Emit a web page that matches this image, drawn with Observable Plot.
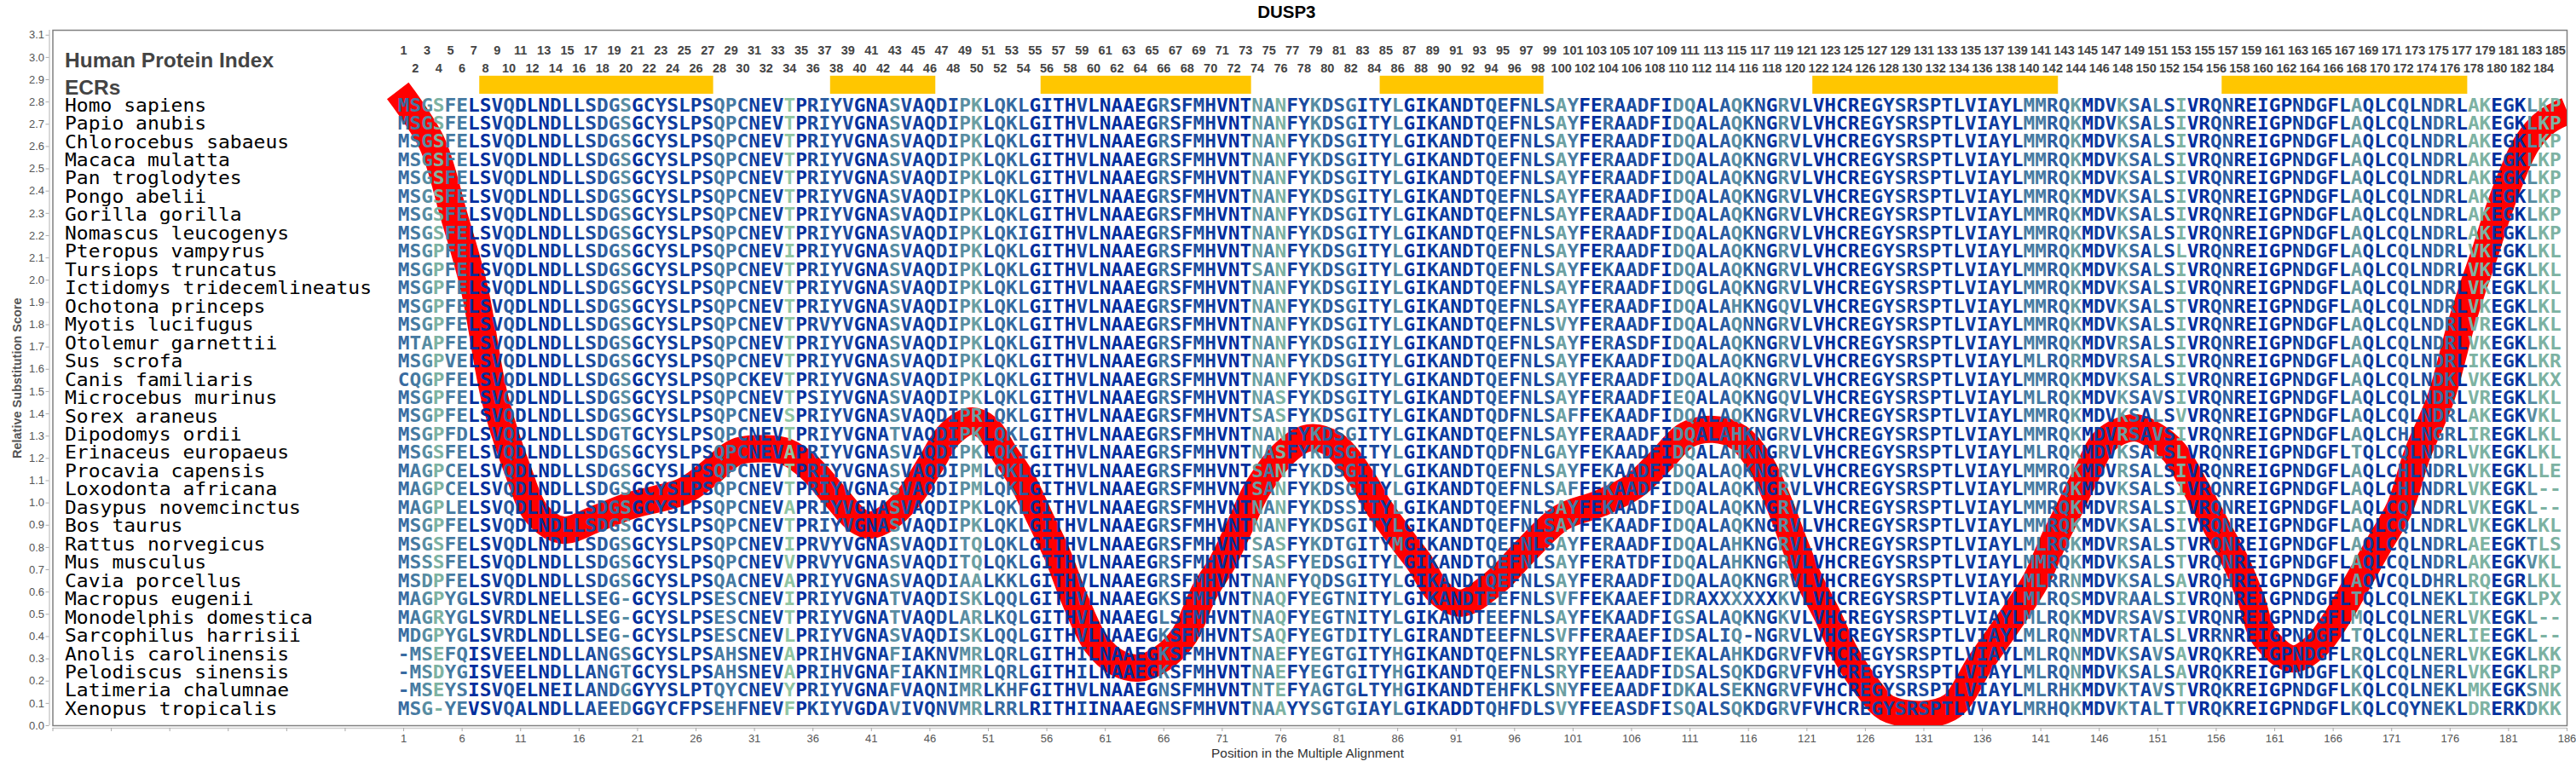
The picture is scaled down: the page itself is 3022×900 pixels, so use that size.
<!DOCTYPE html>
<html>
<head>
<meta charset="utf-8">
<style>html,body{margin:0;padding:0;background:#fff}svg{display:block}</style>
<script src="https://cdn.jsdelivr.net/npm/d3@7"></script>
<script src="https://cdn.jsdelivr.net/npm/@observablehq/plot@0.6"></script>
</head>
<body>
<script>
const species = ["Homo sapiens","Papio anubis","Chlorocebus sabaeus","Macaca mulatta","Pan troglodytes","Pongo abelii","Gorilla gorilla","Nomascus leucogenys","Pteropus vampyrus","Tursiops truncatus","Ictidomys tridecemlineatus","Ochotona princeps","Myotis lucifugus","Otolemur garnettii","Sus scrofa","Canis familiaris","Microcebus murinus","Sorex araneus","Dipodomys ordii","Erinaceus europaeus","Procavia capensis","Loxodonta africana","Dasypus novemcinctus","Bos taurus","Rattus norvegicus","Mus musculus","Cavia porcellus","Macropus eugenii","Monodelphis domestica","Sarcophilus harrisii","Anolis carolinensis","Pelodiscus sinensis","Latimeria chalumnae","Xenopus tropicalis"];

// Alignment columns 1-24
const seg1 = ["MSGSFELSVQDLNDLLSDGSGCYS","MSGSFELSVQDLNDLLSDGSGCYS","MSGSFELSVQDLNDLLSDGSGCYS","MSGSFELSVQDLNDLLSDGSGCYS","MSGSFELSVQDLNDLLSDGSGCYS","MSGSFELSVQDLNDLLSDGSGCYS","MSGSFELSVQDLNDLLSDGSGCYS","MSGSFELSVQDLNDLLSDGSGCYS","MSGPFELSVQDLNDLLSDGSGCYS","MSGPFELSVQDLNDLLSDGSGCYS","MSGPFELSVQDLNDLLSDGSGCYS","MSGPFELSVQDLNDLLSDGSGCYS","MSGPFELSVQDLNDLLSDGSGCYS","MTAPFELSVQDLNDLLSDGSGCYS","MSGPVELSVQDLNDLLSDGSGCYS","CQGPFELSVQDLNDLLSDGSGCYS","MSGPFELSVQDLNDLLSDGSGCYS","MSGPFELSVQDLNDLLSDGSGCYS","MSGPFDLSVQDLNDLLSDGTGCYS","MSGSFELSVQDLNDLLSDGSGCYS","MAGPCELSVQDLNDLLSDGSGCYS","MAGPCELSVQDLNDLLSDGSGCYS","MAGPLELSVQDLNDLLSDGSGCYS","MSGPFELSVQDLNDLLSDGSGCYS","MSGSFELSVQDLNDLLSDGSGCYS","MSSSFELSVQDLNDLLSDGSGCYS","MSDPFELSVQDLNDLLSDGSGCYS","MAGPYGLSVRDLNELLSEG-GCYS","MAGRYGLSVRDLNELLSEG-GCYS","MDGPYGLSVRDLNDLLSEG-GCYS","-MSEFQISVEELNDLLANGSGCYS","-MSDYGISVEELNDLLANGTGCYS","-MSEYSISVQELNEILANDGGYYS","MSG-YEVSVQALNDLLAEEDGGYC"];

// Alignment columns 25-83
const seg2 = ["LPSQPCNEVTPRIYVGNASVAQDIPKLQKLGITHVLNAAEGRSFMHVNTNANFYKDSGI","LPSQPCNEVTPRIYVGNASVAQDIPKLQKLGITHVLNAAEGRSFMHVNTNANFYKDSGI","LPSQPCNEVTPRIYVGNASVAQDIPKLQKLGITHVLNAAEGRSFMHVNTNANFYKDSGI","LPSQPCNEVTPRIYVGNASVAQDIPKLQKLGITHVLNAAEGRSFMHVNTNANFYKDSGI","LPSQPCNEVTPRIYVGNASVAQDIPKLQKLGITHVLNAAEGRSFMHVNTNANFYKDSGI","LPSQPCNEVTPRIYVGNASVAQDIPKLQKLGITHVLNAAEGRSFMHVNTNANFYKDSGI","LPSQPCNEVTPRIYVGNASVAQDIPKLQKLGITHVLNAAEGRSFMHVNTNANFYKDSGI","LPSQPCNEVTPRIYVGNASVAQDIPKLQKIGITHVLNAAEGRSFMHVNTNANFYKDSGI","LPSQPCNEVIPRIYVGNASVAQDIPKLQKLGITHVLNAAEGRSFMHVNTNANFYKDSGI","LPSQPCNEVTPRIYVGNASVAQDIPKLQKLGITHVLNAAEGRSFMHVNTSANFYKDSGI","LPSQPCNEVTPRIYVGNASVAQDIPKLQKLGITHVLNAAEGRSFMHVNTNANFYKDSGI","LPSQPCNEVTPRIYVGNASVAQDIPKLQKLGITHVLNAAEGRSFMHVNTNANFYKDSGI","LPSQPCNEVTPRVYVGNASVAQDIPKLQKLGITHVLNAAEGRSFMHVNTNANFYKDSGI","LPSQPCNEVTPRIYVGNASVAQDIPKLQKLGITHVLNAAEGRSFMHVNTNANFYKDSGI","LPSQPCNEVTPRIYVGNASVAQDIPKLQKLGITHVLNAAEGRSFMHVNTNANFYKDSGI","LPSQPCKEVTPRIYVGNASVAQDIPKLQKLGITHVLNAAEGRSFMHVNTNANFYKDSGI","LPSQPCNEVTPSIYVGNASVAQDIPKLQKLGITHVLNAAEGRSFMHVNTNASFYKDSGI","LPSQPCNEVSPRIYVGNASVAQDIPRLQKLGITHVLNAAEGRSFMHVNTSASFYKDSGI","LPSQPCNEVTPRIYVGNATVAQDIPKLQKLGITHVLNAAEGRSFMHVNTNANFYKDSGI","LPSQPCNEVAPRIYVGNASVAQDIPKLQKIGITHVLNAAEGRSFMHVNTNASFYKDSGI","LPSQPCNEVTPRIYVGNASVAQDIPMLQKLGITHVLNAAEGRSFMHVNTSANFYKDSGI","LPSQPCNEVTPRIYVGNASVAQDIPMLQKLGITHVLNAAEGRSFMHVNTSANFYKDSGI","LPSQPCNEVAPRIYVGNASVAQDIPKLQKLGITHVLNAAEGRSFMHVNTNANFYKDSSI","LPSQPCNEVTPRIYVGNASVAQDIPKLQKLGITHVLNAAEGRSFMHVNTNANFYKDSGI","LPSQPCNEVIPRVYVGNASVAQDITQLQKLGITHVLNAAEGRSFMHVNTSASFYKDTGI","LPSQPCNEVVPRVYVGNASVAQDITQLQKLGITHVLNAAEGRSFMHVNTSASFYEDSGI","LPSQACNEVAPRIYVGNASVAQDIAALKKLGITHVLNAAEGRSFMHVNTNANFYQDSGI","LPSESCNEVIPRIYVGNATVAQDISKLQQLGITHVLNAAEGKSFMHVNTNAQFYEGTNI","LPSESCNEVTPRIYVGNATVAQDLARLKQLGITHVLNAAEGLSFMHVNTNAQFYEGTNI","LPSESCNEVLPRIYVGNASVAQDISKLQQLGITHVLNAAEGKSFMHVNTSAQFYEGTDI","LPSAHSNEVAPRIHVGNAFIAKNVMRLQRLGITHILNAAEGKSFMHVNTNAEFYEGTGI","LPSAHSNEVAPRIHVGNAFIAKNIMRLQRLGITHILNAAEGKSFMHVNTNAEFYEGTGI","LPTQYCNEVYPRIYVGNAFVAQNIMRLKHFGITHVLNAAEGNSFMHVNTNTEFYAGTGL","FPSEHFNEVFPKIYVGDAVIVQNVMRLRRLRITHIINAAEGNSFMHVNTNAAYYSGTGI"];

// Alignment columns 84-121
const seg3 = ["TYLGIKANDTQEFNLSAYFERAADFIDQALAQKNGRVL","TYLGIKANDTQEFNLSAYFERAADFIDQALAQKNGRVL","TYLGIKANDTQEFNLSAYFERAADFIDQALAQKNGRVL","TYLGIKANDTQEFNLSAYFERAADFIDQALAQKNGRVL","TYLGIKANDTQEFNLSAYFERAADFIDQALAQKNGRVL","TYLGIKANDTQEFNLSAYFERAADFIDQALAQKNGRVL","TYLGIKANDTQEFNLSAYFERAADFIDQALAQKNGRVL","TYLGIKANDTQEFNLSAYFERAADFIDQALAQKNGRVL","TYLGIKANDTQEFNLSAYFERAADFIDQALAQKNGRVL","TYLGIKANDTQEFNLSAYFEKAADFIDQALAQKNGRVL","IYLGIKANDTQEFNLSAYFERAADFIDQGLAQKNGRVL","TYLGIKANDTQEFNLSAYFERAADFIDQALAHKNGQVL","TYLGIKANDTQEFNLSVYFERAADFIDQALAQNNGRVL","IYLGIKANDTQEFNLSAYFERASDFIDQALAQKNGRVL","TYLGIKANDTQEFNLSAYFEKAADFIDQALAQKNGRVL","TYLGIKANDTQEFNLSAYFERAADFIDQALAQKNGRVL","TYLGIKANDTQEFNLSAYFERAADFIEQALAQKNGQVL","TYLGIKANDTQDFNLSAFFEKAADFIDQALAQKNGRVL","TYLGIKANDTQEFNLSAYFERAADFIDQALAHKNGRVL","TYLGIKANDTQDFNLGAYFEKAADFIDQALAHKNGRVL","TYLGIKANDTQEFNLSAYFEKAADFIDQALAQKNGRVL","TYLGIKANDTQEFNLSAFFEKAADFIDQALAQKNGRVL","TYLGIKANDTQEFNLSAYFEKAADFIDQALAQKNGRVL","TYLGIKANDTQEFNLSAYFEKAADFIDQALAQKNGRVL","TYMGIKANDTQEFNLSAYFERAADFIDQALAHKNGRVL","TYLGIKANDTQEFNLSAYFERATDFIDQALAHKNGRVL","TYLGIKANDTQEFNLSAYFERAADFIDQALAQKNGRVL","TYLGIKANDTEEFNLSVFFEKAAEFIDRAXXXXXXKVL","TYLGIKANDTEEFNLSAYFEKAADFIGSALAQKNGKVL","TYLGIRANDTEEFNLSVFFERAAEFIDSALIQ-NGRVL","TYHGIKANDTQEFNLSRYFEEAADFIEKALAHKDGRVF","TYHGIKANDTQEFNLSRYFEEAADFIDSALSQKDGRVF","TYHGIKANDTEHFKLSNYFEEAADFIDKALSEKNGRVF","AYLGIKADDTQHFDLSVYFEEASDFISQALSQKDGRVF"];

// Alignment columns 122-185
const seg4 = ["VHCREGYSRSPTLVIAYLMMRQKMDVKSALSIVRQNREIGPNDGFLAQLCQLNDRLAKEGKLKP","VHCREGYSRSPTLVIAYLMMRQKMDVKSALSIVRQNREIGPNDGFLAQLCQLNDRLAKEGKLKP","VHCREGYSRSPTLVIAYLMMRQKMDVKSALSIVRQNREIGPNDGFLAQLCQLNDRLAKEGKLKP","VHCREGYSRSPTLVIAYLMMRQKMDVKSALSIVRQNREIGPNDGFLAQLCQLNDRLAKEGKLKP","VHCREGYSRSPTLVIAYLMMRQKMDVKSALSIVRQNREIGPNDGFLAQLCQLNDRLAKEGKLKP","VHCREGYSRSPTLVIAYLMMRQKMDVKSALSIVRQNREIGPNDGFLAQLCQLNDRLAKEGKLKP","VHCREGYSRSPTLVIAYLMMRQKMDVKSALSIVRQNREIGPNDGFLAQLCQLNDRLAKEGKLKP","VHCREGYSRSPTLVIAYLMMRQKMDVKSALSIVRQNREIGPNDGFLAQLCQLNDRLAKEGKLKP","VHCREGYSRSPTLVIAYLMMRQKMDVKSALSLVRQNREIGPNDGFLAQLCQLNDRLVKEGKLKL","VHCREGYSRSPTLVIAYLMMRQKMDVKSALSIVRQNREIGPNDGFLAQLCQLNDRLVKEGKLKL","VHCREGYSRSPTLVIAYLMMRQKMDVKSALSIVRQNREIGPNDGFLAQLCQLNDRLVKEGKLKL","VHCREGYSRSPTLVIAYLMMRQKMDVKSALSTVRQNREIGPNDGFLAQLCQLNDRLVKEGKLKL","VHCREGYSRSPTLVIAYLMMRQKMDVKSALSIVRQNREIGPNDGFLAQLCQLNDRLVREGKLKL","VHCREGYSRSPTLVIAYLMMRQKMDVRSALSIVRQNREIGPNDGFLAQLCQLNDRLVKEGKLKL","VHCREGYSRSPTLVIAYLMLRQRMDVRSALSIVRQNREIGPNDGFLAQLCQLNDRLIKEGKLKR","VHCREGYSRSPTLVIAYLMMRQKMDVKSALSIVRQNREIGPNDGFLAQLCQLNDKLVKEGKLKX","VHCREGYSRSPTLVIAYLMLRQKMDVKSAVSIVRQNREIGPNDGFLAQLCQLNDRLVREGKLKL","VHCREGYSRSPTLVIAYLMMRQKMDVKSALSVVRQNREIGPNDGFLAQLCQLNDRLAKEGKVKL","VHCREGYSRSPTLVIAYLMMRQKMDVRSAVSIVRQNREIGPNDGFLAQLCHLNGRLIREGKLKL","VHCREGYSRSPTLVIAYLMLRQKMDVKSALSLVRQNREIGPNDGFLTQLCQLNDRLVKEGKLKL","VHCREGYSRSPTLVIAYLMMRQKMDVRSALSIVRQNREIGPNDGFLAQLCHLNDRLVKEGKLLE","VHCREGYSRSPTLVIAYLMMRQKMDVKSALSIVRQNREIGPNDGFLAQLCHLNDRLVKEGKL--","VHCREGYSRSPTLVIAYLMMRQKMDVRSALSIVRQNREIGPNDGFLAQLCQLNDRLVKEGKL--","VHCREGYSRSPTLVIAYLMMRQKMDVKSALSIVRQNREIGPNDGFLAQLCQLNDRLVKEGKLKL","VHCREGYSRSPTLVIAYLMLRQKMDVRSALSTVRQNREIGPNDGFLAQLCQLNDRLAEEGKTLS","VHCREGYSRSPTLVIAYLMMRQKMDVKSALSTVRQNREIGPNDGFLAQLCQLNDRLAKEGKVKL","VHCREGYSRSPTLVIAYLMLRRNMDVKSALSAVRQHREIGPNDGFLAQVCQLDHRLRQEGRLKL","VHCREGYSRSPTLVIAYLMLRQSMDVRAALSIVRQNREIGPNDGFLTQLCQLNEKLIKEGKLPX","VHCREGYSRSPTLVIAYLMLRQKMDVRSAVSIVRQNREIGPNDGFLMQLCQLNERLVKEGKL--","VHCREGYSRSPTLVIAYLMLRQNMDVRTALSLVRRNREIGPNDGFLTQLCQLNERLIEEGKL--","VHCREGYSRSPTLVIAYLMLRQNMDVKSAVSAVRQKREIGPNDGFLRQLCQLNERLVKEGKLKK","VHCREGYSRSPTLVIAYLMLRQNMDVKSALSAVRQKREIGPNDGFLKQLCQLNERLVKEGKLRP","VHCREGYSRSPTLVIAYLMLRHKMDVKTAVSTVRQKREIGPNDGFLKQLCQLNEKLMKEGKSNK","VHCREGYSRSPTLVVAYLMRHQKMDVKTALTTVRQKREIGPNDGFLKQLCQYNEKLDRERKDKK"];

const conservation = [
5,4,3,1,4,4,9,9,8,6,8,9,9,8,8,8,7,6,5,3,9,8,7,8,8,
8,8,4,4,6,8,8,8,0,9,7,6,7,7,9,9,8,3,7,8,8,7,7,3,2,
9,5,5,6,9,8,9,9,7,9,9,9,9,9,9,4,8,8,7,8,9,9,9,2,4,
1,8,7,3,6,6,4,8,7,8,3,9,9,8,8,9,8,8,6,6,8,6,8,6,2,
4,9,9,5,8,7,7,8,9,3,3,8,8,6,3,6,7,9,3,7,8,9,9,9,9,
8,8,8,7,8,7,8,8,9,8,8,8,8,9,4,4,6,5,2,9,8,8,2,5,8,
3,8,1,9,9,7,6,9,9,9,9,9,8,8,8,9,9,2,8,9,8,6,8,7,5,
5,9,1,1,9,8,9,3,1,1];

const ecrStart = [8,38,56,85,122,157];
const ecrEnd = [27,46,73,98,142,177];

// Relative substitution score curve
const curvePos = [0.5,3.4,5.3,7.05,8.8,10.8,12.4,14.6,17.5,20.5,24.9,27.1,29.4,32,33.8,35.7,37.9,39.8,40.9,42.4,44.2,46.1,47.6,49.5,50.9,52.4,53.9,55.4,56.9,58.4,60.2,62.1,63.9,65.8,67.7,69.5,71,72.5,74,76.4,78.4,80.6,83.2,84.3,86.6,87.9,89.5,91.4,94.4,97,100,103.3,106.2,108.5,110.7,113,115.2,117,118.6,119.9,121.2,122.8,124.3,126.4,127.8,130.8,133.4,135.8,138.6,140.6,142,143.5,145,146.5,149,151,152.4,154.3,156,157.7,159,160.1,162.5,164.5,166.4,168.2,170,171.7,173.2,175.2,176.9,177.9,179,180,181.2,182.6,184.2,186];
const curveScore = [2.85,2.617,2.29,1.96,1.469,1.14,0.95,0.878,0.93,0.99,1.052,1.132,1.228,1.243,1.228,1.159,1.03,0.922,0.90,0.934,1.024,1.178,1.304,1.368,1.337,1.22,1.10,0.934,0.768,0.565,0.37,0.28,0.259,0.30,0.40,0.604,0.731,0.895,1.063,1.228,1.292,1.26,1.088,0.987,0.82,0.73,0.60,0.55,0.647,0.788,0.934,0.998,1.075,1.19,1.304,1.33,1.292,1.178,1.0,0.82,0.654,0.49,0.322,0.157,0.08,0.05,0.088,0.28,0.49,0.654,0.82,0.98,1.14,1.28,1.337,1.292,1.228,1.063,0.896,0.731,0.565,0.40,0.30,0.355,0.49,0.654,0.82,0.98,1.22,1.47,1.794,1.96,2.127,2.29,2.46,2.617,2.71,2.76];

const titleText = "DUSP3";
const xLabel = "Position in the Multiple Alignment";
const yLabel = "Relative Substitution Score";
const headerLabels = ["Human Protein Index","ECRs"];
const positions = d3.range(1,186);

const rowScore = i => 2.784 - i*0.08213;

const cells = [];
species.forEach((s,i) => {
  const seq = seg1[i]+seg2[i]+seg3[i]+seg4[i];
  [...seq].forEach((ch,j) => cells.push({pos:j+1,row:rowScore(i),ch,shade:conservation[j]}));
});

// widen glyphs: the reference draws the monospace face stretched horizontally
const stretch = k => (index,scales,values,dims,ctx,next) => {
  const g = next(index,scales,values,dims,ctx);
  g.querySelectorAll("text").forEach(t => t.setAttribute("transform",(t.getAttribute("transform")||"")+` scale(${k},1)`));
  return g;
};

const mono = "'DejaVu Sans Mono'";
const sans = "'Liberation Sans'";

const chart = Plot.plot({
  width:3022, height:900,
  marginLeft:61.5, marginRight:11, marginTop:35, marginBottom:49,
  style:{fontFamily:sans, background:"#fff", overflow:"visible"},
  x:{domain:[-29,186]},
  y:{domain:[0,3.122]},
  color:{type:"linear",domain:[0,4,9],range:["#8fc4a2","#467aa2","#002e9e"]},
  marks:[
    Plot.frame({stroke:"#808080",strokeWidth:1.5}),
    Plot.ruleX([-29],{dx:-4,stroke:"#ccc",strokeWidth:1.5}),
    Plot.ruleY([0],{dy:3,stroke:"#ccc",strokeWidth:1.5}),
    Plot.axisY({ticks:d3.range(0,31).map(d=>d/10).concat(3.1),tickFormat:d=>d.toFixed(1),tickSize:4,tickPadding:2,dx:-4,label:null,fontSize:13,fill:"#555",stroke:"#aaa"}),
    Plot.axisX({ticks:d3.range(-29,187,5),tickFormat:d=>d>0?d:"",tickSize:4,tickPadding:3,dy:3,label:null,fontSize:13,fill:"#555",stroke:"#aaa"}),
    Plot.line(curvePos.map((p,i)=>({p,v:curveScore[i]})),{x:"p",y:"v",stroke:"#ff0000",strokeWidth:32,curve:"catmull-rom",strokeLinecap:"butt",strokeLinejoin:"round",clip:true}),
    Plot.rect(ecrStart.map((s,i)=>({a:s-0.5,b:ecrEnd[i]+0.5})),{x1:"a",x2:"b",y1:2.835,y2:2.916,fill:"#ffc600"}),
    Plot.text(positions,{x:d=>d,y:d=>d%2?3.031:2.95,text:d=>String(d),fontSize:14.5,fontWeight:"bold",fill:"#444"}),
    Plot.text(headerLabels,{x:-29,y:(d,i)=>i?2.863:2.985,dx:14,text:d=>d,textAnchor:"start",fontSize:24.5,fontWeight:"bold",fill:"#444"}),
    Plot.text(species,{x:-29,y:(d,i)=>rowScore(i),dx:14,text:d=>d,textAnchor:"start",fontFamily:mono,fontSize:21,fill:"#000",render:stretch(1.096)}),
    Plot.text(cells,{x:"pos",y:"row",text:"ch",fontFamily:mono,fontWeight:"bold",fontSize:21,fill:"shade",render:stretch(1.086)}),
    Plot.text([titleText],{x:76.5,y:3.122,dy:-21,text:d=>d,fontSize:20.5,fontWeight:"bold",fill:"#000"}),
    Plot.text([xLabel],{x:78.3,y:0,dy:33,text:d=>d,fontSize:15.4,fill:"#333"}),
    Plot.text([yLabel],{x:-29,y:1.56,dx:-42,rotate:-90,text:d=>d,fontSize:14.5,fontWeight:"bold",fill:"#555"})
  ]
});
document.body.appendChild(chart);
</script>
</body>
</html>
